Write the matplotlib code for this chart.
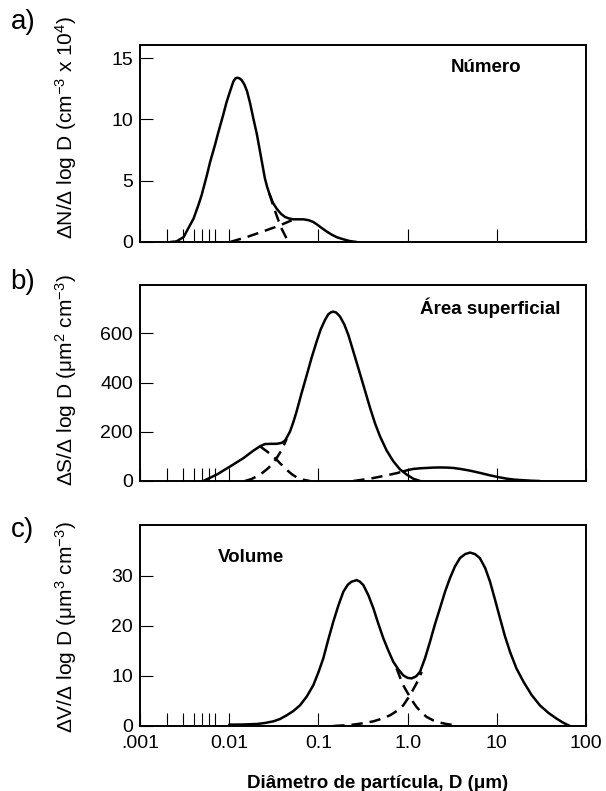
import matplotlib
matplotlib.use('Agg')
import matplotlib.pyplot as plt
from matplotlib.ticker import FixedLocator, NullFormatter, FixedFormatter

plt.rcParams['font.family'] = ['Liberation Sans', 'DejaVu Sans']
plt.rcParams['mathtext.fontset'] = 'custom'
plt.rcParams['mathtext.rm'] = 'Liberation Sans'
plt.rcParams['mathtext.it'] = 'Liberation Sans:italic'
plt.rcParams['mathtext.bf'] = 'Liberation Sans:bold'

# ---------------- data (log10 of diameter in um, values) ----------------
# a) number distribution
log_d_a_total = [-2.66, -2.59, -2.51, -2.46, -2.40, -2.346, -2.31, -2.25, -2.215, -2.16, -2.12,
                 -2.066, -2.03, -1.99, -1.953, -1.93, -1.909, -1.885, -1.86, -1.83, -1.80,
                 -1.765, -1.73, -1.69, -1.655, -1.625, -1.60, -1.575, -1.55, -1.51, -1.468,
                 -1.42, -1.374, -1.33, -1.28, -1.22, -1.169, -1.11, -1.057, -1.01, -0.963,
                 -0.905, -0.851, -0.79, -0.72, -0.65, -0.571]
val_a_total = [0, 0.05, 0.41, 1.1, 1.9, 3.0, 3.8, 5.45, 6.5, 7.9, 9.0,
               10.4, 11.4, 12.3, 13.1, 13.35, 13.4, 13.35, 13.2, 12.85, 12.3,
               11.3, 10.1, 8.8, 7.4, 6.2, 5.2, 4.5, 3.95, 3.2, 2.72,
               2.3, 2.04, 1.92, 1.85, 1.85, 1.85, 1.78, 1.63, 1.4, 1.14,
               0.85, 0.6, 0.38, 0.22, 0.08, 0]
log_d_a_mode1 = [-1.55, -1.49, -1.42, -1.337]
val_a_mode1 = [3.95, 2.6, 1.2, 0]
log_d_a_mode2 = [-1.99, -1.80, -1.617, -1.43, -1.30]
val_a_mode2 = [0, 0.41, 0.87, 1.36, 1.77]

# b) surface area distribution
log_d_b_total = [-2.29, -2.14, -1.99, -1.84, -1.73, -1.655, -1.60, -1.53, -1.468, -1.41, -1.374,
                 -1.318, -1.28, -1.244, -1.19, -1.13, -1.075, -1.02, -0.975, -0.926, -0.889,
                 -0.86, -0.833, -0.80, -0.758, -0.71, -0.664, -0.61, -0.552, -0.485, -0.42,
                 -0.365, -0.309, -0.235, -0.16, -0.085, -0.01, 0.065, 0.139]
val_b_total = [0, 26, 59, 93, 123, 141, 150, 151, 151, 155, 164,
               201, 240, 283, 355, 431, 502, 566, 615, 654, 677,
               685, 688, 684, 668, 636, 593, 528, 458, 376, 296,
               234, 181, 124, 80, 47, 26, 9, 0]
log_d_b_mode1 = [-1.655, -1.58, -1.505, -1.43, -1.356, -1.30, -1.244, -1.17, -1.094]
val_b_mode1 = [141, 121, 100, 72, 46, 28, 15, 5, 0]
log_d_b_mode2 = [-1.823, -1.75, -1.69, -1.62, -1.56, -1.51, -1.468, -1.41, -1.356]
val_b_mode2 = [0, 8, 19, 35, 53, 73, 93, 127, 171]
log_d_b_coarse_dash = [-0.608, -0.49, -0.384, -0.29, -0.197, -0.12, -0.048]
val_b_coarse_dash = [0, 6, 12, 19, 26, 32, 39]
log_d_b_coarse_solid = [-0.048, 0.01, 0.064, 0.14, 0.214, 0.29, 0.363, 0.44, 0.513, 0.60,
                        0.70, 0.81, 0.924, 1.02, 1.11, 1.20, 1.30, 1.39, 1.48]
val_b_coarse_solid = [39, 45, 49, 51.5, 53, 54.5, 55, 54.5, 53, 48.5,
                      42, 33, 23, 15.5, 9.5, 5.5, 3, 1.2, 0]

# c) volume distribution
log_d_c_total = [-2.0, -1.85, -1.69, -1.60, -1.505, -1.43, -1.356, -1.28, -1.206, -1.13, -1.057,
                 -1.0, -0.945, -0.89, -0.833, -0.775, -0.72, -0.67, -0.627, -0.571, -0.535,
                 -0.496, -0.44, -0.384, -0.33, -0.272, -0.215, -0.16, -0.10, -0.048, 0.0,
                 0.046, 0.095, 0.139, 0.195, 0.251, 0.305, 0.363, 0.42, 0.475, 0.53,
                 0.587, 0.645, 0.70, 0.755, 0.81, 0.87, 0.924, 0.98, 1.036, 1.09,
                 1.148, 1.22, 1.30, 1.39, 1.484, 1.58, 1.67, 1.75, 1.82]
val_c_total = [0.27, 0.3, 0.4, 0.6, 0.93, 1.4, 2.13, 3.0, 4.13, 5.9, 8.13,
               10.7, 13.5, 17.2, 20.8, 24.1, 26.8, 28.2, 28.8, 29.1, 28.8,
               28.1, 26.1, 23.5, 20.5, 17.5, 15.0, 12.8, 11.2, 10.1, 9.6,
               9.5, 9.9, 10.8, 13.5, 16.8, 20.2, 23.5, 26.8, 29.5, 31.8,
               33.5, 34.3, 34.6, 34.3, 33.5, 31.5, 28.8, 25.2, 21.5, 18.0,
               14.8, 11.5, 8.8, 6.2, 4.1, 2.6, 1.47, 0.6, 0]
log_d_c_fine = [-0.123, -0.085, -0.048, -0.01, 0.027, 0.065, 0.10, 0.155, 0.214, 0.29, 0.363,
                0.45, 0.55]
val_c_fine = [11.5, 9.7, 8.1, 6.9, 5.8, 4.7, 3.8, 2.7, 1.8, 1.1, 0.67, 0.35, 0.13]
log_d_c_coarse = [-0.833, -0.72, -0.61, -0.50, -0.384, -0.29, -0.197, -0.12, -0.048, 0.027,
                  0.10, 0.158]
val_c_coarse = [0, 0.12, 0.27, 0.55, 0.93, 1.45, 2.13, 3.0, 4.13, 6.13, 8.5, 10.8]

major_ticks = [0.001, 0.01, 0.1, 1.0, 10, 100]
major_labels = ['.001', '0.01', '0.1', '1.0', '10', '100']
minor_ticks = [0.002, 0.003, 0.004, 0.005, 0.006, 0.007]

# ---------------- figure ----------------
W, H = 606, 791
fig = plt.figure(figsize=(W / 100, H / 100), dpi=100)

def make_axes(top, bottom):
    return fig.add_axes([140 / W, 1 - bottom / H, 446 / W, (bottom - top) / H])

LW = 1.8
DASH = (0, (4.5, 2.8))
TICKFS = 14

def style(ax, ylim, yticks, show_xlabels):
    ax.set_xscale('log')
    ax.set_xlim(1e-3, 1e2)
    ax.set_ylim(*ylim)
    ax.xaxis.set_major_locator(FixedLocator(major_ticks))
    ax.xaxis.set_minor_locator(FixedLocator(minor_ticks))
    ax.xaxis.set_minor_formatter(NullFormatter())
    if show_xlabels:
        ax.xaxis.set_major_formatter(FixedFormatter(major_labels))
    else:
        ax.xaxis.set_major_formatter(NullFormatter())
    ax.set_yticks(yticks)
    ax.set_yticklabels([str(t) for t in yticks])
    ax.tick_params(axis='both', which='both', direction='in', length=9.4, width=0.8,
                   labelsize=TICKFS, top=False, right=False)
    ax.tick_params(axis='y', pad=5)
    ax.tick_params(axis='x', pad=6.5)
    for s in ax.spines.values():
        s.set_linewidth(1.4)

def line(ax, ld, v, dashed=False):
    d = [10 ** x for x in ld]
    ax.plot(d, v, color='black', lw=LW, linestyle=DASH if dashed else '-',
            solid_capstyle='round', solid_joinstyle='round')

# a)
ax_a = make_axes(45, 242)
style(ax_a, (0, 16.07), [0, 5, 10, 15], False)
line(ax_a, log_d_a_total, val_a_total)
line(ax_a, log_d_a_mode1, val_a_mode1, True)
line(ax_a, log_d_a_mode2, val_a_mode2, True)
fig.text(486 / W, 1 - 67 / H, 'Número', ha='center', va='center',
         fontsize=13.5, fontweight='bold')

# b)
ax_b = make_axes(285, 481)
style(ax_b, (0, 796), [0, 200, 400, 600], False)
line(ax_b, log_d_b_total, val_b_total)
line(ax_b, log_d_b_mode1, val_b_mode1, True)
line(ax_b, log_d_b_mode2, val_b_mode2, True)
line(ax_b, log_d_b_coarse_dash, val_b_coarse_dash, True)
line(ax_b, log_d_b_coarse_solid, val_b_coarse_solid)
fig.text(490 / W, 1 - 308 / H, 'Área superficial', ha='center',
         va='center', fontsize=13.5, fontweight='bold')

# c)
ax_c = make_axes(525, 726)
style(ax_c, (0, 40.1), [0, 10, 20, 30], True)
line(ax_c, log_d_c_total, val_c_total)
line(ax_c, log_d_c_fine, val_c_fine, True)
line(ax_c, log_d_c_coarse, val_c_coarse, True)
fig.text(251 / W, 1 - 557 / H, 'Volume', ha='center', va='center',
         fontsize=13.5, fontweight='bold')

# x label
fig.text(378 / W, 1 - 783 / H, 'Diâmetro de partícula, D (μm)', ha='center', va='center',
         fontsize=13.5, fontweight='bold')

# y labels
YFS = 15
fig.text(66 / W, 1 - 127 / H, 'ΔN/Δ log D (cm$^{-3}$ x 10$^{4}$)', rotation=90,
         ha='center', va='center', fontsize=YFS)
fig.text(66 / W, 1 - 380 / H, 'ΔS/Δ log D (μm$^{2}$ cm$^{-3}$)', rotation=90,
         ha='center', va='center', fontsize=YFS)
fig.text(66 / W, 1 - 627 / H, 'ΔV/Δ log D (μm$^{3}$ cm$^{-3}$)', rotation=90,
         ha='center', va='center', fontsize=YFS)

# panel letters
for lab, yp in (('a)', 22), ('b)', 282), ('c)', 530)):
    fig.text(23 / W, 1 - yp / H, lab, ha='center', va='center', fontsize=20)

fig.savefig('out.png', dpi=100)
